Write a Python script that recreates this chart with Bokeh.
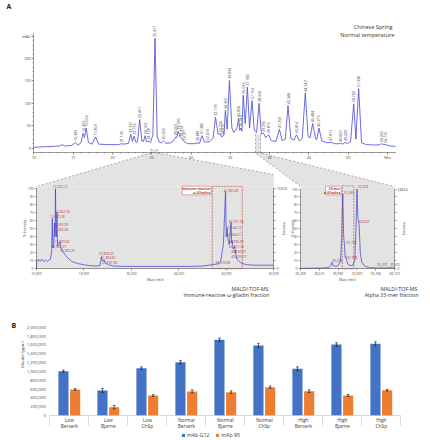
from math import pi
from bokeh.plotting import figure
from bokeh.models import Range1d, LinearAxis, FixedTicker, NumeralTickFormatter, Legend, LegendItem
from bokeh.core.properties import value
from bokeh.embed import file_html
from bokeh.resources import INLINE

# ============================ DATA ============================
# Panel A: RP-HPLC chromatogram (time in min, absorbance in mAU)
chrom_points = [(10.0, 2), (11.0, 3), (12.5, 4), (13.3, 5), (13.6, 8), (13.9, 5), (14.8, 6), (15.31, 13), (15.6, 7),
                (16.0, 12), (16.26, 33), (16.45, 24), (16.66, 45), (16.95, 13), (17.4, 9), (17.87, 25), (18.25, 9),
                (19.5, 8), (20.8, 8), (21.13, 10), (21.5, 9), (22.05, 11), (22.34, 31), (22.55, 15), (22.75, 27),
                (23.0, 13), (23.2, 15), (23.47, 64), (23.75, 16), (23.95, 15), (24.16, 28), (24.35, 14), (24.54, 16),
                (24.85, 13), (25.15, 30), (25.42, 245), (25.7, 25), (26.0, 13), (26.25, 12), (26.51, 16), (26.8, 11),
                (27.4, 12), (27.8, 17), (28.03, 25), (28.2, 24), (28.36, 38), (28.6, 26), (28.81, 22), (29.0, 17),
                (29.22, 14), (29.6, 10), (30.4, 10), (30.88, 12), (31.1, 11), (31.39, 28), (31.7, 14), (32.07, 14),
                (32.4, 15), (32.8, 22), (33.12, 69), (33.45, 31), (33.73, 32), (33.9, 25), (34.02, 26), (34.2, 30),
                (34.37, 84), (34.6, 42), (34.89, 151), (35.2, 45), (35.45, 35), (35.65, 40), (35.85, 45), (36.05, 66),
                (36.2, 40), (36.35, 45), (36.48, 38), (36.64, 118), (36.9, 55), (37.18, 136), (37.45, 45), (37.76, 106),
                (38.05, 40), (38.35, 35), (38.66, 100), (38.95, 32), (39.24, 33), (39.5, 24), (39.88, 30), (40.2, 17),
                (40.8, 15), (41.25, 42), (41.6, 17), (42.0, 20), (42.34, 95), (42.7, 22), (43.1, 18), (43.41, 30),
                (43.8, 16), (44.15, 22), (44.54, 123), (44.9, 26), (45.15, 23), (45.48, 55), (45.85, 21), (46.0, 19),
                (46.28, 45), (46.65, 16), (47.3, 12), (47.81, 13), (48.3, 10), (48.8, 10), (49.06, 11), (49.3, 9),
                (49.61, 13), (49.9, 10), (50.3, 15), (50.70, 99), (50.98, 20), (51.33, 133), (51.7, 12), (52.3, 8),
                (53.5, 7), (54.0, 8), (54.27, 10), (54.5, 8), (54.78, 8), (55.3, 5), (56.0, 4)]
chrom_time = [t for t, _ in chrom_points]
chrom_mau = [v for _, v in chrom_points]

peak_names = ["15.305", "16.263", "16.656", "17.869", "21.126", "22.337", "22.753", "23.467", "24.162", "24.538",
              "25.417", "26.505", "28.033", "28.359", "28.814", "29.217", "30.881", "31.386", "32.074", "33.118",
              "33.730", "34.015", "34.365", "34.894", "36.050", "36.349", "36.639", "37.180", "37.763", "38.660",
              "39.235", "39.876", "41.253", "42.344", "43.414", "44.542", "45.484", "46.276", "47.811", "49.059",
              "49.609", "50.702", "51.330", "54.265", "54.776"]
peak_time = [float(n) for n in peak_names]
peak_mau = [13, 33, 45, 25, 10, 31, 27, 64, 28, 16, 245, 16, 25, 38, 22, 14, 12, 28, 14, 69,
            32, 26, 84, 151, 66, 45, 118, 136, 106, 100, 33, 30, 42, 95, 30, 123, 55, 45, 13, 11,
            13, 99, 133, 10, 8]
chrom_ticks = [10, 15, 20, 25, 30, 35, 40, 45, 50, 55]
mau_ticks = [0, 50, 100, 150, 200, 250]
zoom1_window = (24.9, 25.75)   # min, fraction sent to MALDI (left)
zoom2_window = (38.2, 38.85)   # min, fraction sent to MALDI (right)

# MALDI-TOF-MS, immune-reactive omega-gliadin fraction (m/z, % intensity)
maldi1_points = [(10000, 0), (10030, 9), (10300, 12), (10600, 9), (10900, 12), (11200, 9), (11500, 11), (11800, 9),
                 (12100, 11), (12350, 12), (12550, 22), (12667, 63), (12750, 26), (12900, 30), (13051, 57),
                 (13120, 40), (13200, 100), (13282, 50), (13360, 40), (13462, 71), (13526, 28), (13700, 30),
                 (13970, 34), (14100, 27), (14283, 23), (14600, 20), (15000, 16), (15500, 12), (16000, 9),
                 (17000, 6.5), (18000, 5), (19000, 4), (20000, 3.5), (20700, 4), (20958, 15), (21100, 10),
                 (21385, 11), (21600, 7), (21792, 7), (22300, 4.5), (23000, 3.5), (25000, 3), (28000, 3),
                 (31000, 3), (34000, 3), (36000, 3), (38000, 3.5), (39000, 4.5), (39524, 5), (40500, 6),
                 (41000, 8), (41500, 30), (41866, 97), (41980, 40), (42065, 43), (42144, 50), (42300, 35),
                 (42500, 30), (42792, 58), (42900, 32), (42997, 35), (43150, 25), (43417, 28), (43500, 20),
                 (43551, 23), (43610, 17), (43800, 12), (44500, 7), (45500, 5), (47000, 4.5), (50000, 4.5)]
maldi1_mass = [m for m, _ in maldi1_points]
maldi1_pct = [v for _, v in maldi1_points]
maldi1_labels = ["13,200.12", "13,462.16", "12,667.28", "13,050.99", "13,282.39", "13,970.62", "13,526.27",
                 "14,283.20", "20,958.20", "21,384.82", "21,791.98", "39,523.89", "41,865.80", "42,791.56",
                 "42,144.12", "42,064.61", "42,996.95", "43,417.14", "43,550.91", "43,609.22"]
maldi1_ticks = [10000, 18000, 26000, 34000, 42000, 50000]
maldi1_max = "1533.6"

# MALDI-TOF-MS, alpha 33-mer fraction
maldi2_points = [(26238, 0.5), (27000, 0.6), (28000, 0.8), (29000, 1), (29800, 1.5), (30050, 4), (30208, 8),
                 (30350, 4), (30700, 3), (31000, 4), (31300, 10), (31450, 40), (31583, 94), (31700, 40),
                 (31792, 31), (31900, 14), (31996, 15), (32200, 6), (32500, 4), (32800, 4), (33100, 10),
                 (33250, 50), (33378, 100), (33500, 62), (33642, 57), (33800, 20), (34000, 8), (34400, 3),
                 (35000, 1.5), (35307, 1.2), (36000, 1), (37000, 1), (37491, 1.5), (38000, 1), (38123, 1)]
maldi2_mass = [m for m, _ in maldi2_points]
maldi2_pct = [v for _, v in maldi2_points]
maldi2_labels = ["33,378", "31,583", "33,642", "31,792", "31,996", "30,208", "35,307", "37,491"]
maldi2_ticks = [26238, 28615, 30992, 33369, 35746, 38123]
maldi2_max = "2483.6"

# Panel B: gliadin content (ppm)
levels = ["Low", "Low", "Low", "Normal", "Normal", "Normal", "High", "High", "High"]
cultivars = ["Berserk", "Bjarne", "ChSp", "Berserk", "Bjarne", "ChSp", "Berserk", "Bjarne", "ChSp"]
g12 = [1004000, 566000, 1072000, 1208000, 1714000, 1585000, 1057000, 1608000, 1623000]
g12_err = [25000, 45000, 30000, 40000, 40000, 45000, 45000, 40000, 45000]
r5 = [589000, 189000, 453000, 544000, 528000, 642000, 551000, 453000, 574000]
r5_err = [20000, 40000, 20000, 35000, 30000, 25000, 30000, 25000, 20000]
gliadin_ticks = list(range(0, 2000001, 200000))

# ============================ LAYOUT ============================
W, H = 430, 440
FONT = value("Open Sans")
AX = "#555555"
RED = "#b23a30"
GRAY = "#e3e3e3"


def xr(d0, i0, d1, i1):
    s = (d1 - d0) / (i1 - i0)
    return Range1d(start=d0 + (0 - i0) * s, end=d0 + (W - i0) * s)


def yr(d0, i0, d1, i1):
    s = (d1 - d0) / (i1 - i0)
    return Range1d(start=d0 + (H - i0) * s, end=d0 + (0 - i0) * s)


def Y(iy):
    return H - iy


def CX(t):
    return 33.3 + (t - 10) * (387 - 33.3) / 45


p = figure(width=W, height=H, output_backend="svg", toolbar_location=None,
           x_axis_type=None, y_axis_type=None,
           x_range=Range1d(0, W), y_range=Range1d(0, H),
           min_border=0, outline_line_color=None)
p.extra_x_ranges = {"cx": xr(10, 33.3, 55, 387), "m1x": xr(10000, 36, 50000, 273.3),
                    "m2x": xr(26238, 300, 38123, 394), "bx": xr(0, 49.3, 9, 400.3)}
p.extra_y_ranges = {"cy": yr(0, 147.7, 200, 58), "m1y": yr(0, 268.3, 100, 188.3),
                    "m2y": yr(0, 268.3, 100, 188.5), "by": yr(0, 415, 2000000, 326.7)}


def add_axis(side, xn, yn, loc, ticks, minor=(), bounds="auto", overrides=None, fmt=None,
             size="3.8px", tick_out=2, line=True, color=AX, standoff=1):
    ax = LinearAxis(x_range_name=xn, y_range_name=yn, fixed_location=loc,
                    ticker=FixedTicker(ticks=list(ticks), minor_ticks=list(minor)), bounds=bounds)
    ax.axis_line_color = color if line else None
    ax.axis_line_width = 0.6
    ax.major_tick_line_color = color if tick_out else None
    ax.major_tick_line_width = 0.6
    ax.major_tick_out = tick_out
    ax.major_tick_in = 0
    ax.minor_tick_line_color = color
    ax.minor_tick_line_width = 0.5
    ax.minor_tick_out = 1
    ax.minor_tick_in = 0
    ax.major_label_text_font = "Open Sans"
    ax.major_label_text_font_size = size
    ax.major_label_text_color = "#444444"
    ax.major_label_standoff = standoff
    if fmt:
        ax.formatter = fmt
    if overrides:
        ax.major_label_overrides = overrides
    p.add_layout(ax, side)
    return ax


# ---------- zoom connectors (drawn first, underneath) ----------
a1, b1 = CX(zoom1_window[0]), CX(zoom1_window[1])
a2, b2 = CX(zoom2_window[0]), CX(zoom2_window[1])
p.patch([a1, b1, b1, 273.3, 273.3, 36, a1], [Y(v) for v in [148.5, 148.5, 152.5, 174, 186, 186, 152.5]],
        fill_color=GRAY, line_color=None)
p.patch([a2, b2, b2, 394, 300, a2], [Y(v) for v in [134, 134, 152.5, 186, 186, 152.5]],
        fill_color=GRAY, line_color=None)
for xs, ys in [([a1, a1, 36], [148.5, 152.5, 186]), ([b1, b1, 273.3], [148.5, 152.5, 174]),
               ([a2, a2, 300], [134, 152.5, 186]), ([b2, b2, 394], [134, 152.5, 186])]:
    p.line(xs, [Y(v) for v in ys], line_color="#777777", line_width=0.6, line_dash="2 2")

# MALDI plot backgrounds
p.quad(left=[10000], right=[50000], bottom=[0], top=[103], fill_color=GRAY, line_color=None,
       x_range_name="m1x", y_range_name="m1y")
p.quad(left=[26238], right=[38123], bottom=[0], top=[103], fill_color=GRAY, line_color=None,
       x_range_name="m2x", y_range_name="m2y")

# ---------- Panel A: chromatogram ----------
p.line(chrom_time, chrom_mau, line_color="#4646d8", line_width=0.8, x_range_name="cx", y_range_name="cy")
p.text(x=peak_time, y=peak_mau, text=peak_names, angle=pi / 2, text_align="left", text_baseline="middle",
       y_offset=-1.5, text_font=FONT, text_font_size="3.6px", text_color="#333333",
       x_range_name="cx", y_range_name="cy")
add_axis("below", "cx", "cy", -9, chrom_ticks, minor=range(10, 57), bounds=(10, 56),
         overrides={55: "Min"})
add_axis("left", "cx", "cy", 10, mau_ticks, minor=range(0, 251, 10), bounds=(-9, 255),
         overrides={250: "mAU"})
p.text(x=[392, 394], y=[Y(26), Y(34)], text=["Chinese Spring", "Normal temperature"], text_align="right",
       text_baseline="middle", text_font=FONT, text_font_size="5.6px", text_color="#333333")
p.text(x=[6, 11], y=[Y(6), Y(325)], text=["A", "B"], text_align="left", text_baseline="middle",
       text_font=FONT, text_font_size="7px", text_font_style="bold", text_color="#222222")

# ---------- MALDI 1 ----------
p.line(maldi1_mass, maldi1_pct, line_color="#3b3bd6", line_width=0.7, x_range_name="m1x", y_range_name="m1y")
m1_lx = [12750, 13085, 12240, 12815, 12815, 13085, 12480, 13930, 20500, 20790, 21070, 40170,
         41570, 42410, 41975, 41975, 42410, 42410, 42820, 42820]
m1_ly = [102.5, 71.6, 65.8, 56, 49.6, 34, 27.9, 22.5, 18.8, 14, 8.3, 8.3,
         97.9, 59.5, 52, 42.5, 34, 27.9, 21.6, 15.4]
p.text(x=m1_lx, y=m1_ly, text=maldi1_labels, text_align="left", text_baseline="middle", text_font=FONT,
       text_font_size="3.3px", text_color=RED, x_range_name="m1x", y_range_name="m1y")
p.quad(left=[39620], right=[44680], bottom=[0], top=[103], fill_color=None, line_color=RED, line_width=0.6,
       line_dash="2 1", x_range_name="m1x", y_range_name="m1y")
add_axis("left", "m1x", "m1y", 10000, range(0, 101, 10), bounds=(0, 100), size="3.3px")
add_axis("right", "m1x", "m1y", 50000, range(0, 101, 10), bounds=(0, 100), size="3.3px",
         overrides={t: ("0" if t == 0 else maldi1_max if t == 100 else "") for t in range(0, 101, 10)})
add_axis("below", "m1x", "m1y", 0, maldi1_ticks, bounds=(10000, 50000), size="3.3px",
         fmt=NumeralTickFormatter(format="0,0"))

# ---------- MALDI 2 ----------
p.line(maldi2_mass, maldi2_pct, line_color="#3b3bd6", line_width=0.7, x_range_name="m2x", y_range_name="m2y")
m2_lx = [33480, 31710, 33607, 32050, 32140, 30245, 35930, 37610]
m2_ly = [102.9, 95.8, 59, 33, 14.5, 10.4, 5, 5]
p.text(x=m2_lx, y=m2_ly, text=maldi2_labels, text_align="left", text_baseline="middle", text_font=FONT,
       text_font_size="3.3px", text_color=RED, x_range_name="m2x", y_range_name="m2y")
p.quad(left=[31512], right=[32980], bottom=[0], top=[104], fill_color=None, line_color=RED, line_width=0.6,
       line_dash="2 1", x_range_name="m2x", y_range_name="m2y")
add_axis("left", "m2x", "m2y", 26238, range(0, 101, 10), bounds=(0, 100), size="3.3px")
add_axis("right", "m2x", "m2y", 38123, range(0, 101, 10), bounds=(0, 100), size="3.3px",
         overrides={t: ("0" if t == 0 else maldi2_max if t == 100 else "") for t in range(0, 101, 10)})
add_axis("below", "m2x", "m2y", 0, maldi2_ticks, bounds=(26238, 38123), size="3.3px",
         fmt=NumeralTickFormatter(format="0,0"))

# fraction label boxes
p.quad(left=[181.7, 325], right=[210.7, 340.7], bottom=[Y(194.3)] * 2, top=[Y(185.7)] * 2,
       fill_color="white", line_color=RED, line_width=0.4)
p.text(x=[209.8, 209.8, 339.8, 339.8], y=[Y(188), Y(192), Y(188), Y(192)],
       text=["Immune-reactive", "\u03c9-Gliadins", "33-mer", "\u03b1-Gliadins"],
       text_align="right", text_baseline="middle", text_font=FONT, text_font_size="3.3px",
       text_font_style="bold", text_color=RED)

# MALDI axis titles and captions
p.text(x=[24, 291.7], y=[Y(228)] * 2, text=["% Intensity"] * 2, angle=pi / 2, text_align="center",
       text_baseline="middle", text_font=FONT, text_font_size="3.3px", text_color="#444444")
p.text(x=[284, 404], y=[Y(228)] * 2, text=["Intensity"] * 2, angle=-pi / 2, text_align="center",
       text_baseline="middle", text_font=FONT, text_font_size="3.3px", text_color="#444444")
p.text(x=[155, 347], y=[Y(278.5)] * 2, text=["Mass (m/z)"] * 2, text_align="center",
       text_baseline="middle", text_font=FONT, text_font_size="3.3px", text_color="#444444")
p.text(x=[268, 269, 417, 418], y=[Y(288), Y(294.5), Y(288), Y(294.5)],
       text=["MALDI-TOF-MS", "Immune-reactive \u03c9-gliadin fraction", "MALDI-TOF-MS", "Alpha 33-mer fraction"],
       text_align="right", text_baseline="middle", text_font=FONT, text_font_size="5.3px", text_color="#333333")

# ---------- Panel B: bar chart ----------
idx = list(range(len(levels)))
xb = [i + 0.5 - 0.15 for i in idx]
xo = [i + 0.5 + 0.15 for i in idx]
rb = p.vbar(x=xb, top=g12, bottom=0, width=0.26, fill_color="#4472C4", line_color=None,
            x_range_name="bx", y_range_name="by")
ro = p.vbar(x=xo, top=r5, bottom=0, width=0.26, fill_color="#ED7D31", line_color=None,
            x_range_name="bx", y_range_name="by")
for xs, vals, errs in [(xb, g12, g12_err), (xo, r5, r5_err)]:
    lo = [v - e for v, e in zip(vals, errs)]
    hi = [v + e for v, e in zip(vals, errs)]
    p.segment(x0=xs, y0=lo, x1=xs, y1=hi, line_color="#222222", line_width=0.7,
              x_range_name="bx", y_range_name="by")
    p.scatter(x=xs + xs, y=lo + hi, marker="dash", size=2.5, line_color="#222222", line_width=0.7,
              x_range_name="bx", y_range_name="by")
add_axis("left", "bx", "by", 0, gliadin_ticks, line=False, tick_out=0, size="4.2px", standoff=4,
         fmt=NumeralTickFormatter(format="0,0"), color="#595959")
add_axis("below", "bx", "by", 0, range(0, 10), bounds=(0, 9), tick_out=10, size="4px",
         overrides={i: "" for i in range(10)}, color="#bfbfbf")
p.text(x=[i + 0.5 for i in idx], y=[0] * len(idx), text=[f"{l}\n{c}" for l, c in zip(levels, cultivars)],
       text_align="center", text_baseline="top", y_offset=1.5, text_line_height=1.0, text_font=FONT,
       text_font_size="4.8px", text_color="#404040", x_range_name="bx", y_range_name="by")
p.text(x=[21.7], y=[Y(354)], text=["Gliadin (ppm)"], angle=pi / 2, text_align="center", text_baseline="middle",
       text_font=FONT, text_font_size="4.3px", text_color="#404040")

legend = Legend(items=[LegendItem(label="mAb G12", renderers=[rb]), LegendItem(label="mAb R5", renderers=[ro])],
                orientation="horizontal", location=(181, 1), label_text_font="Open Sans",
                label_text_font_size="5.2px", label_text_color="#404040", glyph_width=4, glyph_height=4,
                label_height=6, label_standoff=2, spacing=6, padding=1, margin=0,
                border_line_color=None, background_fill_alpha=0)
p.add_layout(legend)

open("out.html", "w").write(file_html(p, INLINE))
